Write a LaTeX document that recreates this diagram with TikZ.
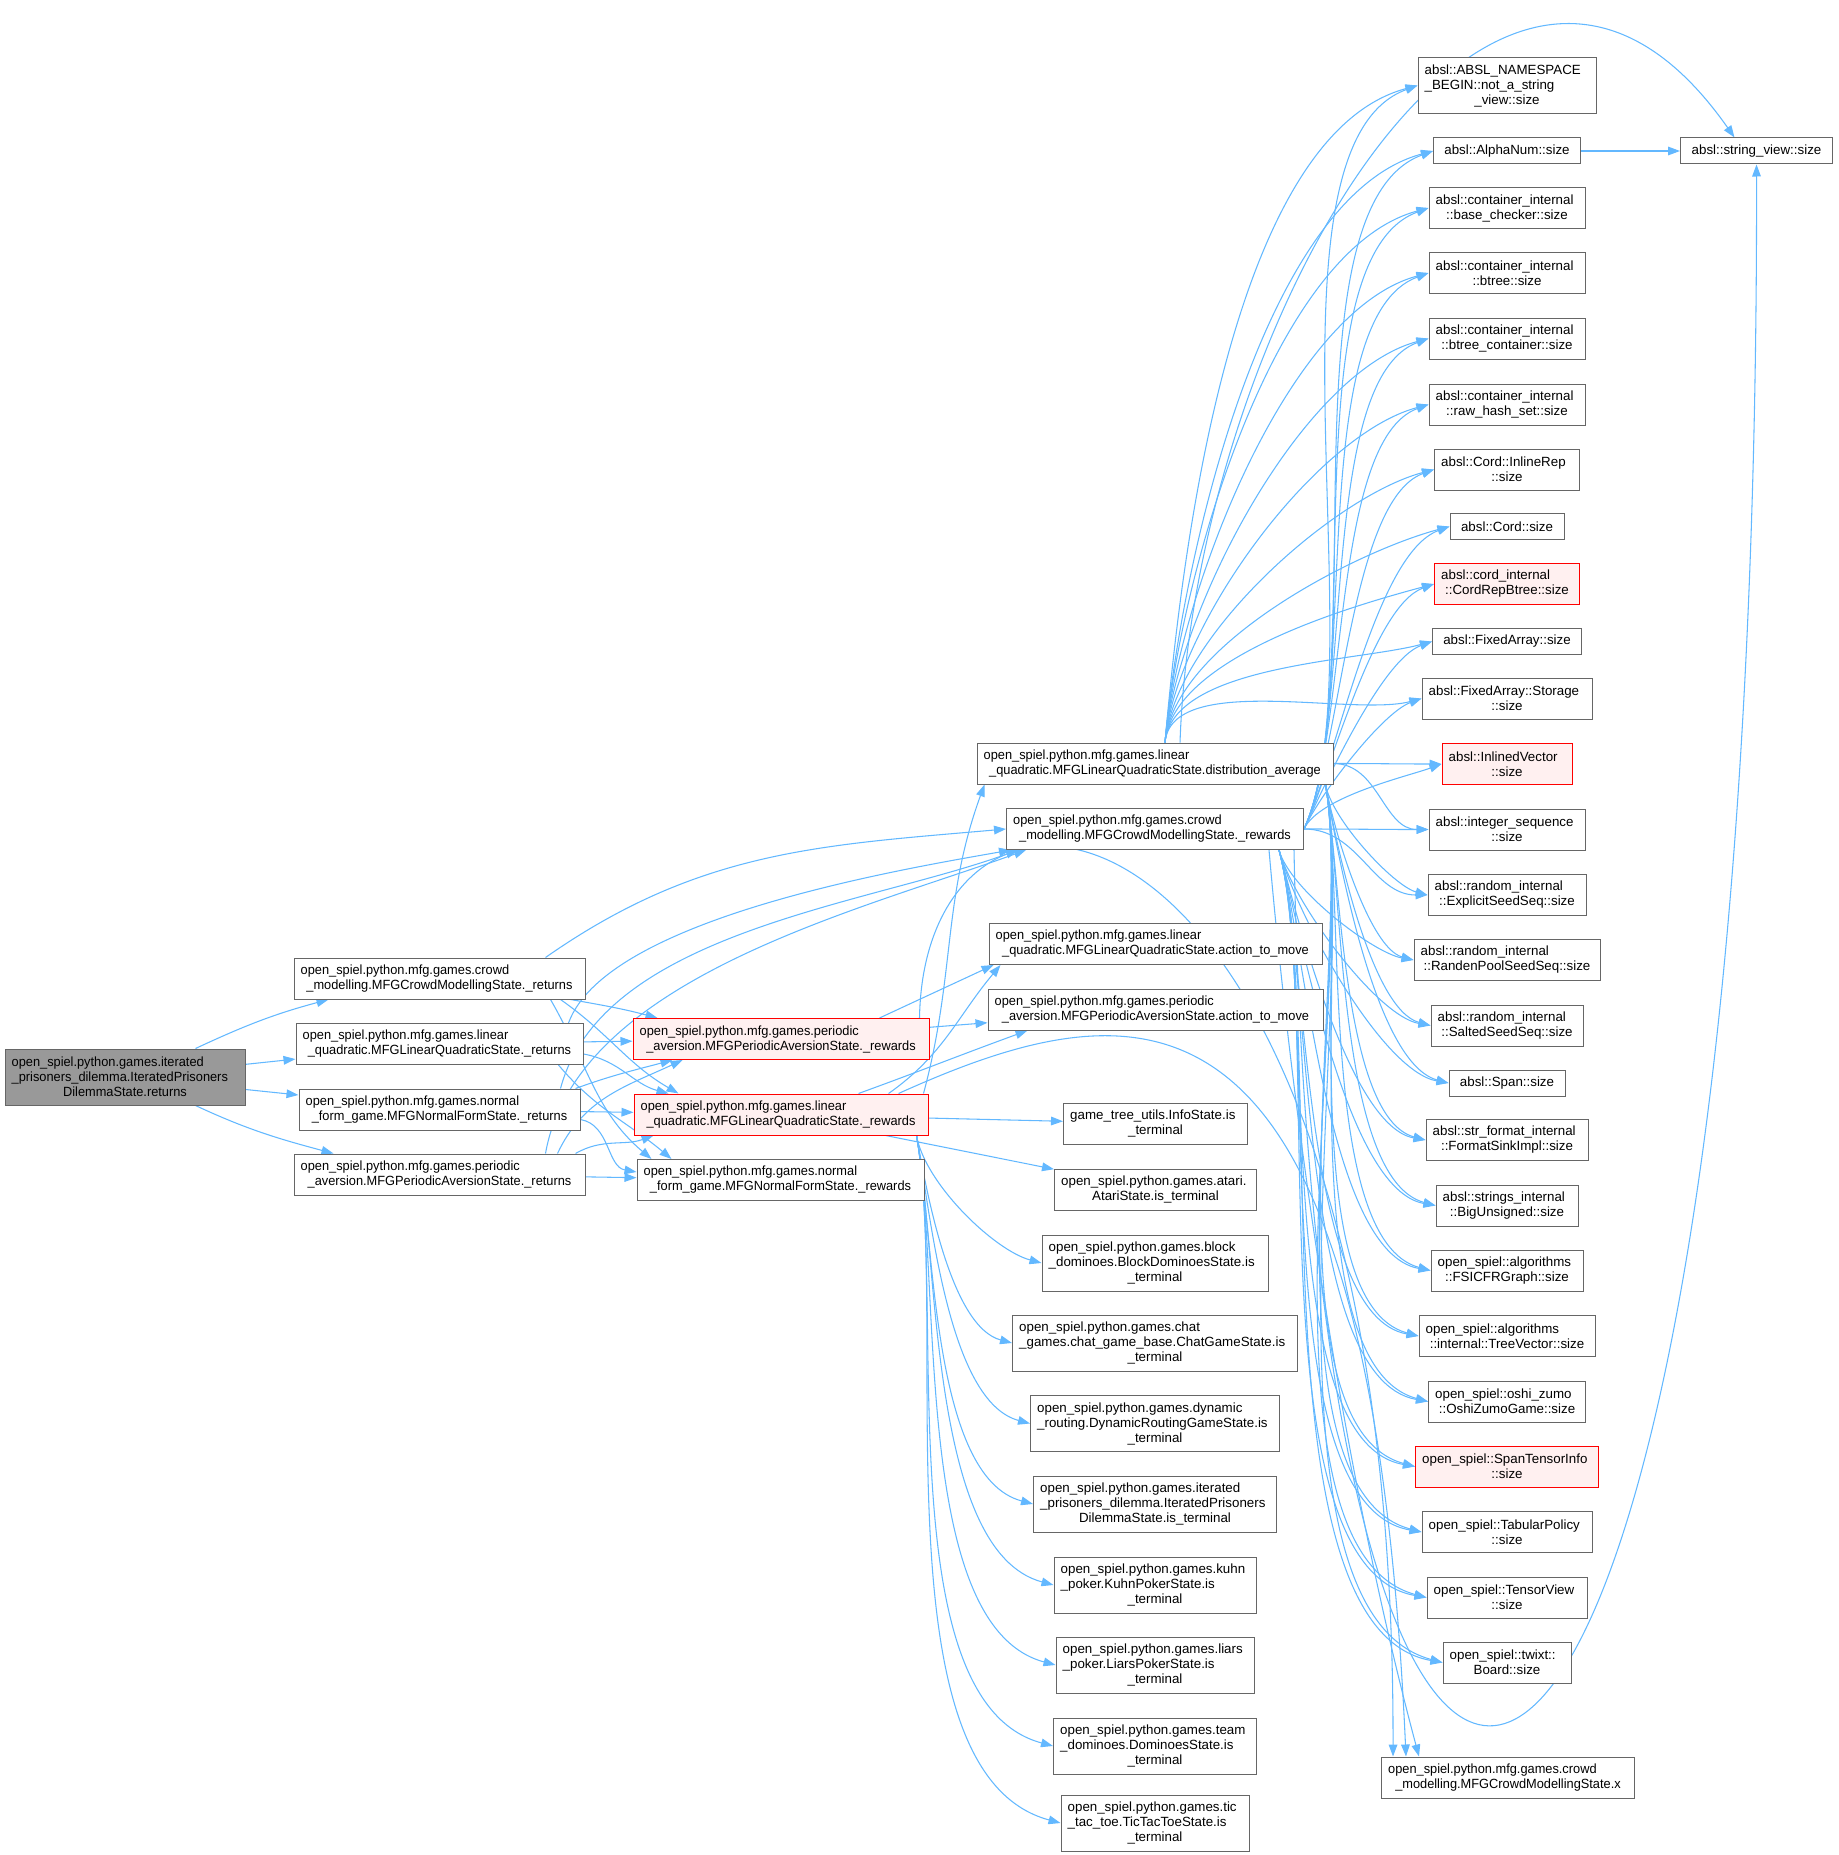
\documentclass[tikz,border=0pt]{standalone}
\usepackage{fontspec}
\setmainfont{Liberation Sans}
\newfontfamily\midfont[FakeStretch=0.96]{Liberation Sans}
\usetikzlibrary{arrows.meta, calc}
\definecolor{EdgeBlue}{HTML}{63B8FF}
\definecolor{FrameGrey}{HTML}{666666}
\definecolor{RootGrey}{HTML}{999999}
\definecolor{HotRed}{HTML}{FF0000}
\definecolor{HotFill}{HTML}{FFF0F0}
\pgfdeclarelayer{edges}
\pgfsetlayers{edges,main}
\newcommand{\lastrow}[1]{\\\makebox[\hsize]{#1}}
\newcommand{\fnbox}[6]{% style, name, x, y, width (px), label
    \pgfmathsetmacro{\boxw}{0.75*#5-10}%
    \node[#1, text width=\boxw pt] (#2) at (#3,-#4) {#6};
}

\begin{document}
\begin{tikzpicture}[x=0.75pt, y=0.75pt, font=\fontsize{10}{11.25}\selectfont,
    fnnode/.style={draw=FrameGrey, fill=white, line width=0.75pt, inner xsep=5pt, inner ysep=0pt, align=left},
    hotnode/.style={fnnode, draw=HotRed, fill=HotFill},
    rootbox/.style={fnnode, fill=RootGrey},
    midtype/.style={font=\midfont\fontsize{10}{11.25}\selectfont},
    rows1/.style={minimum height=19.5pt, align=center},
    rows2/.style={minimum height=30.75pt},
    rows3/.style={minimum height=42pt},
    call/.style={draw=EdgeBlue, line width=0.8pt, -{Triangle[length=9pt, width=6.5pt]}}]
\useasboundingbox (0,0) rectangle (1838,-1855);

\fnbox{rootbox,midtype,rows3}{root}{125}{1077}{240}{open\_spiel.python.games.iterated\\\_prisoners\_dilemma.IteratedPrisoners\lastrow{DilemmaState.returns}}

\fnbox{fnnode,midtype,rows2}{crowdRet}{439.5}{978.5}{291}{open\_spiel.python.mfg.games.crowd\lastrow{\_modelling.MFGCrowdModellingState.\_returns}}
\fnbox{fnnode,midtype,rows2}{linRet}{439.5}{1044}{287}{open\_spiel.python.mfg.games.linear\lastrow{\_quadratic.MFGLinearQuadraticState.\_returns}}
\fnbox{fnnode,midtype,rows2}{normRet}{439.5}{1109.5}{281}{open\_spiel.python.mfg.games.normal\lastrow{\_form\_game.MFGNormalFormState.\_returns}}
\fnbox{fnnode,midtype,rows2}{perRet}{439.5}{1174.5}{291}{open\_spiel.python.mfg.games.periodic\lastrow{\_aversion.MFGPeriodicAversionState.\_returns}}

\fnbox{hotnode,midtype,rows2}{perRew}{781}{1039}{296}{open\_spiel.python.mfg.games.periodic\lastrow{\_aversion.MFGPeriodicAversionState.\_rewards}}
\fnbox{hotnode,midtype,rows2}{linRew}{781}{1114.5}{294}{open\_spiel.python.mfg.games.linear\lastrow{\_quadratic.MFGLinearQuadraticState.\_rewards}}
\fnbox{fnnode,midtype,rows2}{normRew}{780.5}{1180}{287}{open\_spiel.python.mfg.games.normal\lastrow{\_form\_game.MFGNormalFormState.\_rewards}}

\fnbox{fnnode,midtype,rows2}{distAvg}{1155}{763.5}{356}{open\_spiel.python.mfg.games.linear\lastrow{\_quadratic.MFGLinearQuadraticState.distribution\_average}}
\fnbox{fnnode,midtype,rows2}{crowdRew}{1155}{829}{297}{open\_spiel.python.mfg.games.crowd\lastrow{\_modelling.MFGCrowdModellingState.\_rewards}}
\fnbox{fnnode,midtype,rows2}{linMove}{1155.5}{944}{333}{open\_spiel.python.mfg.games.linear\lastrow{\_quadratic.MFGLinearQuadraticState.action\_to\_move}}
\fnbox{fnnode,midtype,rows2}{perMove}{1155.5}{1009.5}{335}{open\_spiel.python.mfg.games.periodic\lastrow{\_aversion.MFGPeriodicAversionState.action\_to\_move}}
\fnbox{fnnode,rows2}{infoTerm}{1155.5}{1123.5}{184}{game\_tree\_utils.InfoState.is\lastrow{\_terminal}}
\fnbox{fnnode,rows2}{atariTerm}{1155.5}{1189.5}{202}{open\_spiel.python.games.atari.\lastrow{AtariState.is\_terminal}}
\fnbox{fnnode,rows3}{blockTerm}{1155}{1263}{226}{open\_spiel.python.games.block\\\_dominoes.BlockDominoesState.is\lastrow{\_terminal}}
\fnbox{fnnode,rows3}{chatTerm}{1155}{1343}{285}{open\_spiel.python.games.chat\\\_games.chat\_game\_base.ChatGameState.is\lastrow{\_terminal}}
\fnbox{fnnode,rows3}{routeTerm}{1155}{1423.5}{249}{open\_spiel.python.games.dynamic\\\_routing.DynamicRoutingGameState.is\lastrow{\_terminal}}
\fnbox{fnnode,rows3}{ipdTerm}{1155}{1504}{243}{open\_spiel.python.games.iterated\\\_prisoners\_dilemma.IteratedPrisoners\lastrow{DilemmaState.is\_terminal}}
\fnbox{fnnode,rows3}{kuhnTerm}{1155}{1585}{202}{open\_spiel.python.games.kuhn\\\_poker.KuhnPokerState.is\lastrow{\_terminal}}
\fnbox{fnnode,rows3}{liarsTerm}{1155}{1665}{198}{open\_spiel.python.games.liars\\\_poker.LiarsPokerState.is\lastrow{\_terminal}}
\fnbox{fnnode,rows3}{teamTerm}{1155}{1746}{203}{open\_spiel.python.games.team\\\_dominoes.DominoesState.is\lastrow{\_terminal}}
\fnbox{fnnode,rows3}{tttTerm}{1155}{1823}{188}{open\_spiel.python.games.tic\\\_tac\_toe.TicTacToeState.is\lastrow{\_terminal}}

\fnbox{fnnode,rows3}{absl1}{1507}{85.5}{178}{absl::ABSL\_NAMESPACE\\\_BEGIN::not\_a\_string\lastrow{\_view::size}}
\fnbox{fnnode,rows1}{alnum}{1507}{151}{147}{absl::AlphaNum::size}
\fnbox{fnnode,rows2}{basechk}{1507}{208}{156}{absl::container\_internal\lastrow{::base\_checker::size}}
\fnbox{fnnode,rows2}{btree}{1507}{273}{156}{absl::container\_internal\lastrow{::btree::size}}
\fnbox{fnnode,rows2}{btreec}{1507}{338.5}{156}{absl::container\_internal\lastrow{::btree\_container::size}}
\fnbox{fnnode,rows2}{rawhash}{1507}{404.5}{156}{absl::container\_internal\lastrow{::raw\_hash\_set::size}}
\fnbox{fnnode,rows2}{inlrep}{1507}{469.5}{145}{absl::Cord::InlineRep\lastrow{::size}}
\fnbox{fnnode,rows1}{cord}{1507}{526.5}{114}{absl::Cord::size}
\fnbox{hotnode,rows2}{cordbt}{1507}{584}{145}{absl::cord\_internal\lastrow{::CordRepBtree::size}}
\fnbox{fnnode,rows1}{fixarr}{1507}{641.5}{149}{absl::FixedArray::size}
\fnbox{fnnode,rows2}{fixsto}{1507}{698.5}{170}{absl::FixedArray::Storage\lastrow{::size}}
\fnbox{hotnode,rows2}{inlvec}{1507}{764}{130}{absl::InlinedVector\lastrow{::size}}
\fnbox{fnnode,rows2}{intseq}{1507}{829.5}{156}{absl::integer\_sequence\lastrow{::size}}
\fnbox{fnnode,rows2}{explseed}{1507}{895}{158}{absl::random\_internal\lastrow{::ExplicitSeedSeq::size}}
\fnbox{fnnode,rows2}{randen}{1507}{960}{186}{absl::random\_internal\lastrow{::RandenPoolSeedSeq::size}}
\fnbox{fnnode,rows2}{salted}{1507}{1025.5}{152}{absl::random\_internal\lastrow{::SaltedSeedSeq::size}}
\fnbox{fnnode,rows1}{span}{1507}{1083}{116}{absl::Span::size}
\fnbox{fnnode,rows2}{fmtsink}{1507}{1140}{162}{absl::str\_format\_internal\lastrow{::FormatSinkImpl::size}}
\fnbox{fnnode,rows2}{bigu}{1507}{1205.5}{142}{absl::strings\_internal\lastrow{::BigUnsigned::size}}
\fnbox{fnnode,rows2}{fsicfr}{1507}{1270.5}{152}{open\_spiel::algorithms\lastrow{::FSICFRGraph::size}}
\fnbox{fnnode,rows2}{treevec}{1507}{1336}{176}{open\_spiel::algorithms\lastrow{::internal::TreeVector::size}}
\fnbox{fnnode,rows2}{oshi}{1507}{1401.5}{157}{open\_spiel::oshi\_zumo\lastrow{::OshiZumoGame::size}}
\fnbox{hotnode,rows2}{spantens}{1507}{1466.5}{183}{open\_spiel::SpanTensorInfo\lastrow{::size}}
\fnbox{fnnode,rows2}{tabular}{1507}{1532}{170}{open\_spiel::TabularPolicy\lastrow{::size}}
\fnbox{fnnode,rows2}{tensview}{1507}{1597.5}{160}{open\_spiel::TensorView\lastrow{::size}}
\fnbox{fnnode,rows2}{board}{1507}{1662.5}{128}{open\_spiel::twixt::\lastrow{Board::size}}
\fnbox{fnnode,midtype,rows2}{crowdx}{1508}{1777.5}{253}{open\_spiel.python.mfg.games.crowd\lastrow{\_modelling.MFGCrowdModellingState.x}}

\fnbox{fnnode,rows1}{strview}{1756.5}{151}{152}{absl::string\_view::size}

\begin{pgfonlayer}{edges}
\draw[call] ($(root.north east)+(-50,0)$) to[out=25,in=195] ($(crowdRet.south west)+(35,0)$);
\draw[call] (root) -- (linRet);
\draw[call] (root) -- (normRet);
\draw[call] ($(root.south east)+(-50,0)$) to[out=-25,in=165] ($(perRet.north west)+(40,0)$);

\draw[call] ($(crowdRet.north east)+(-40,0)$) to[out=35,in=185] (crowdRew.west);
\draw[call] ($(crowdRet.south east)+(-15,0)$) to[out=-10,in=165] ($(perRew.north west)+(25,0)$);
\draw[call] ($(crowdRet.south east)+(-25,0)$) to[out=-35,in=150] ($(linRew.north west)+(45,0)$);
\draw[call] ($(crowdRet.south east)+(-35,0)$) to[out=-60,in=140] ($(normRew.north west)+(15,0)$);
\draw[call] ($(linRet.north east)+(-15,0)$) to[out=70,in=190,looseness=0.6] ($(crowdRew.south west)+(5,0)$);
\draw[call] (linRet) -- (perRew);
\draw[call] ($(linRet.east)+(0,-10)$) to[out=-10,in=165] ($(linRew.north west)+(35,0)$);
\draw[call] ($(linRet.south east)+(-25,0)$) to[out=-50,in=140] ($(normRew.north west)+(35,0)$);
\draw[call] ($(normRet.north east)+(-20,0)$) to[out=75,in=200,looseness=0.8] ($(crowdRew.south west)+(12,0)$);
\draw[call] ($(normRet.north east)+(-5,0)$) to[out=20,in=195] ($(perRew.south west)+(40,0)$);
\draw[call] (normRet) -- (linRew);
\draw[call] ($(normRet.east)+(0,-10)$) to[out=-10,in=170] ($(normRew.west)+(0,8)$);
\draw[call] ($(perRet.north east)+(-40,0)$) to[out=80,in=200,looseness=0.8] ($(crowdRew.south west)+(20,0)$);
\draw[call] ($(perRet.north east)+(-28,0)$) to[out=65,in=205] ($(perRew.south west)+(50,0)$);
\draw[call] ($(perRet.north east)+(-10,0)$) to[out=30,in=200] ($(linRew.south west)+(20,0)$);
\draw[call] (perRet) -- (normRew);

\draw[call] ($(perRew.north east)+(-50,0)$) to[out=25,in=205] ($(linMove.south west)+(5,0)$);
\draw[call] (perRew) -- (perMove);
\draw[call] ($(perRew.north east)+(-10,0)$) .. controls (925,-700) and (1395,-760) .. ($(crowdx.north west)+(12,0)$);
\draw[call] ($(linRew.north east)+(-5,0)$) to[out=75,in=250] ($(distAvg.south west)+(8,0)$);
\draw[call] ($(linRew.north east)+(-40,0)$) to[out=35,in=230] ($(linMove.south west)+(12,0)$);
\draw[call] ($(linRew.north east)+(-70,0)$) to[out=20,in=200] ($(perMove.south west)+(40,0)$);
\draw[call] ($(linRew.north east)+(-30,0)$) .. controls (1150,-980) and (1370,-960) .. ($(crowdx.north west)+(25,0)$);
\draw[call] (linRew) -- (infoTerm);
\draw[call] (linRew) -- (atariTerm);
\foreach \tgt in {blockTerm,chatTerm,routeTerm,ipdTerm,kuhnTerm,liarsTerm,teamTerm,tttTerm}
    \draw[call] ($(linRew.south east)+(-12,0)$) to[out=-80,in=165,looseness=0.7] (\tgt.west);

\foreach \tgt in {absl1,alnum,basechk,btree,btreec,rawhash,inlrep,cord,cordbt,fixarr,fixsto}
    \draw[call] ($(distAvg.north)+(10,0)$) to[out=85,in=195,looseness=0.7] (\tgt.west);
\foreach \tgt in {absl1,alnum,basechk,btree,btreec,rawhash,inlrep,cord,cordbt,fixarr,fixsto,inlvec}
    \draw[call] (crowdRew.east) to[out=65,in=200,looseness=0.6] (\tgt.west);
\foreach \tgt in {inlvec,intseq}
    \draw[call] (distAvg.east) to[out=0,in=180] (\tgt.west);
\foreach \tgt in {intseq,explseed}
    \draw[call] (crowdRew.east) to[out=0,in=180] (\tgt.west);
\foreach \tgt in {explseed,randen,salted,span,fmtsink,bigu,fsicfr,treevec,oshi,spantens,tabular,tensview,board}
    \draw[call] ($(distAvg.south east)+(-8,0)$) to[out=-80,in=165,looseness=0.6] (\tgt.west);
\foreach \tgt in {randen,salted,span,fmtsink,bigu,fsicfr,treevec,oshi,spantens,tabular,tensview,board}
    \draw[call] ($(crowdRew.south east)+(-25,0)$) to[out=-75,in=170,looseness=0.6] (\tgt.west);
\draw[call] ($(crowdRew.south east)+(-35,0)$) to[out=-85,in=105,looseness=0.8] ($(crowdx.north west)+(38,0)$);

\draw[call] (alnum) -- (strview);
\draw[call] ($(distAvg.north)+(25,0)$) to[out=88,in=125,looseness=1.3] ($(strview.north)+(-22,0)$);
\draw[call] ($(crowdRew.south east)+(-10,0)$) .. controls (1320,-2200) and (1760,-2000) .. (strview.south);
\end{pgfonlayer}
\end{tikzpicture}
\end{document}
